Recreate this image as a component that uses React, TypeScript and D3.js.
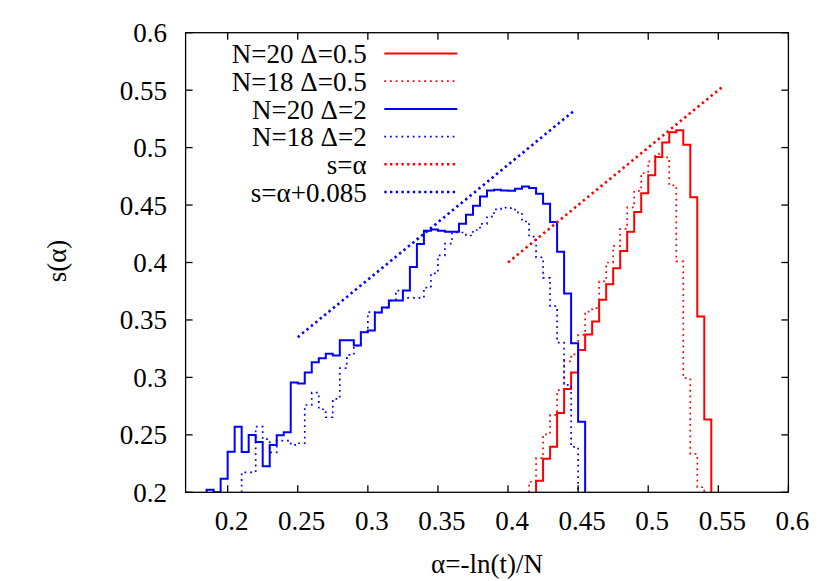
import React from "react";
import * as d3 from "d3";

const BIN = 0.005;

// N=20 Δ=0.5 (red solid)
const red20Start = 0.42;
const red20 = [
  0.21, 0.2293, 0.2397, 0.269, 0.29, 0.3042, 0.3239, 0.3374, 0.3486, 0.3675,
  0.381, 0.3951, 0.41, 0.4268, 0.444, 0.4603, 0.476, 0.4918, 0.5045, 0.5134,
  0.5152, 0.5025, 0.4567, 0.353, 0.2633,
];

// N=18 Δ=0.5 (red dotted)
const red18Start = 0.415;
const red18 = [
  0.2092, 0.2298, 0.2505, 0.2673, 0.289, 0.314, 0.32, 0.337, 0.3573, 0.3603,
  0.3835, 0.4, 0.4145, 0.4293, 0.4479, 0.4624, 0.4779, 0.488, 0.4944, 0.4915,
  0.4671, 0.4009, 0.2993, 0.2334, 0.2044,
];

// N=20 Δ=2 (blue solid)
const blue20Start = 0.185;
const blue20 = [
  0.2023, 0.2, 0.2118, 0.2354, 0.2571, 0.2351, 0.2499, 0.2438, 0.2226, 0.2412,
  0.2496, 0.2523, 0.2955, 0.2946, 0.3042, 0.3132, 0.3167, 0.3205, 0.319, 0.3324,
  0.3324, 0.3277, 0.3394, 0.3408, 0.3565, 0.3608, 0.3669, 0.3669, 0.3756, 0.396,
  0.416, 0.4276, 0.4288, 0.4276, 0.4267, 0.4267, 0.4337, 0.4415, 0.4494, 0.4575,
  0.4627, 0.4633, 0.4627, 0.4624, 0.4642, 0.4662, 0.4648, 0.4598, 0.4511, 0.4352,
  0.4093, 0.373, 0.3298, 0.2615,
];

// N=18 Δ=2 (blue dotted)
const blue18Start = 0.21;
const blue18 = [
  0.2174, 0.2174, 0.2571, 0.2462, 0.2348, 0.2449, 0.2449, 0.2412, 0.2427, 0.276,
  0.2868, 0.2723, 0.2653, 0.2813, 0.308, 0.3196, 0.3277, 0.3394, 0.3568, 0.3565,
  0.3608, 0.3669, 0.3756, 0.3692, 0.3692, 0.3692, 0.3782, 0.3906, 0.4062, 0.4165,
  0.4261, 0.4261, 0.4235, 0.4283, 0.4337, 0.44, 0.4463, 0.4478, 0.4474, 0.4436,
  0.4357, 0.4226, 0.4045, 0.3866, 0.362, 0.3303, 0.2935, 0.2395,
];

// reference lines
const lineAlphaX = [0.4, 0.553];
const lineAlphaOffset = 0.0;
const lineAlpha2X = [0.25, 0.447];
const lineAlpha2Offset = 0.085;

const xTicks = [0.2, 0.25, 0.3, 0.35, 0.4, 0.45, 0.5, 0.55, 0.6];
const xTickLabels = ["0.2", "0.25", "0.3", "0.35", "0.4", "0.45", "0.5", "0.55", "0.6"];
const yTicks = [0.2, 0.25, 0.3, 0.35, 0.4, 0.45, 0.5, 0.55, 0.6];
const yTickLabels = ["0.2", "0.25", "0.3", "0.35", "0.4", "0.45", "0.5", "0.55", "0.6"];

const legendLabels = [
  "N=20 Δ=0.5",
  "N=18 Δ=0.5",
  "N=20 Δ=2",
  "N=18 Δ=2",
  "s=α",
  "s=α+0.085",
];

const W = 830;
const H = 581;
const L = 185.6, R = 788.4, T = 32.7, B = 492.3;
const FONT = `"Liberation Serif"`;
const RED = "#ff0000";
const BLUE = "#0000ff";

const x = d3.scaleLinear().domain([0.17, 0.6]).range([L, R]);
const y = d3.scaleLinear().domain([0.2, 0.6]).range([B, T]);

function stepPath(start: number, vals: number[]): string {
  const pts: [number, number][] = [];
  pts.push([start, 0.2]);
  vals.forEach((v, i) => pts.push([start + i * BIN, v]));
  const end = start + vals.length * BIN;
  pts.push([end, vals[vals.length - 1]]);
  pts.push([end, 0.2]);
  const line = d3
    .line<[number, number]>()
    .x((d) => x(d[0]))
    .y((d) => y(d[1]))
    .curve(d3.curveStepAfter);
  return line(pts) || "";
}

function straight(xs: number[], off: number): string {
  const line = d3
    .line<number>()
    .x((d) => x(d))
    .y((d) => y(d + off));
  return line(xs) || "";
}

const styles = [
  { color: RED, dash: undefined, w: 2 },
  { color: RED, dash: "1.8,3.9", w: 1.7 },
  { color: BLUE, dash: undefined, w: 2 },
  { color: BLUE, dash: "1.8,3.9", w: 1.7 },
  { color: RED, dash: "2.4,3.3", w: 2.6 },
  { color: BLUE, dash: "2.4,3.3", w: 2.6 },
];

const textStyle = { fontFamily: FONT, fontSize: "27px" };

export default function App() {
  const paths = [
    stepPath(red20Start, red20),
    stepPath(red18Start, red18),
    stepPath(blue20Start, blue20),
    stepPath(blue18Start, blue18),
    straight(lineAlphaX, lineAlphaOffset),
    straight(lineAlpha2X, lineAlpha2Offset),
  ];
  const tickLen = 7;
  return (
    <div style={{ position: "absolute", left: 0, top: 0 }}>
      <svg width={W} height={H} viewBox={`0 0 ${W} ${H}`} style={{ display: "block", background: "#fff" }}>
        <defs>
          <clipPath id="plotclip">
            <rect x={L} y={T} width={R - L} height={B - T} />
          </clipPath>
        </defs>
        <rect x={0} y={0} width={W} height={H} fill="#fff" />
        <g clipPath="url(#plotclip)" fill="none">
          {paths.map((d, i) => (
            <path
              key={i}
              d={d}
              stroke={styles[i].color}
              strokeWidth={styles[i].w}
              strokeDasharray={styles[i].dash}
              strokeLinejoin="miter"
            />
          ))}
        </g>
        <g stroke="#000" strokeWidth={1.3} fill="none">
          <rect x={L} y={T} width={R - L} height={B - T} />
          {xTicks.map((t, i) => (
            <g key={"xt" + i}>
              <line x1={x(t)} x2={x(t)} y1={B} y2={B - tickLen} />
              <line x1={x(t)} x2={x(t)} y1={T} y2={T + tickLen} />
            </g>
          ))}
          {yTicks.map((t, i) => (
            <g key={"yt" + i}>
              <line x1={L} x2={L + tickLen} y1={y(t)} y2={y(t)} />
              <line x1={R} x2={R - tickLen} y1={y(t)} y2={y(t)} />
            </g>
          ))}
        </g>
        <g fill="#000">
          {xTicks.map((t, i) => (
            <text key={"xl" + i} x={x(t) + 4} y={530} textAnchor="middle" style={textStyle}>
              {xTickLabels[i]}
            </text>
          ))}
          {yTicks.map((t, i) => (
            <text key={"yl" + i} x={167} y={y(t)} dy="0.35em" textAnchor="end" style={textStyle}>
              {yTickLabels[i]}
            </text>
          ))}
          <text x={487} y={573} textAnchor="middle" style={textStyle}>α=-ln(t)/N</text>
          <text x={66} y={261} textAnchor="middle" transform="rotate(-90 66 261)" style={textStyle}>s(α)</text>
          {legendLabels.map((lab, i) => {
            const base = 63.3 + i * 27.7;
            return (
              <g key={"lg" + i}>
                <text x={366.7} y={base} textAnchor="end" style={textStyle}>{lab}</text>
                <line
                  x1={384.3}
                  x2={457.3}
                  y1={base - 9.8}
                  y2={base - 9.8}
                  stroke={styles[i].color}
                  strokeWidth={styles[i].w}
                  strokeDasharray={styles[i].dash}
                />
              </g>
            );
          })}
        </g>
      </svg>
    </div>
  );
}
